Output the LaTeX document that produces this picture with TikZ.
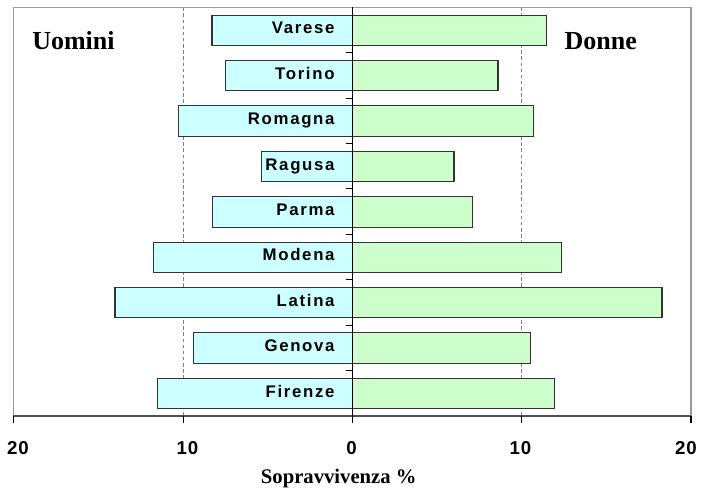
\documentclass[tikz,border=0pt]{standalone}
\usepackage{fontspec}
\setmainfont{Liberation Serif}
\newfontfamily\barfont[LetterSpace=10,BoldFont={Liberation Sans Bold}]{Liberation Sans}
\newfontfamily\tickfont[LetterSpace=5,BoldFont={Liberation Sans Bold}]{Liberation Sans}
\definecolor{menfill}{HTML}{CCFFFF}
\definecolor{womenfill}{HTML}{CCFFCC}
\definecolor{barline}{HTML}{333333}
\definecolor{framegray}{HTML}{9A9A9A}
\definecolor{gridgray}{HTML}{808080}
\definecolor{axisgray}{HTML}{505050}
\begin{document}
\begin{tikzpicture}[x=0.75pt,y=-0.75pt,
  menbar/.style={fill=menfill,draw=barline,line width=0.8pt},
  womenbar/.style={fill=womenfill,draw=barline,line width=0.8pt},
  gridline/.style={draw=gridgray,line width=0.8pt,dash pattern=on 2.6pt off 2pt},
  frameline/.style={draw=framegray,line width=0.8pt},
  axisline/.style={draw=black,line width=0.8pt},
  bottomaxis/.style={draw=axisgray,line width=0.8pt},
  barlabel/.style={font=\barfont\bfseries\fontsize{12.6}{14}\selectfont,anchor=base east,inner sep=0pt},
  ticklabel/.style={font=\tickfont\bfseries\fontsize{14}{16}\selectfont,anchor=base,inner sep=0pt},
  sidetitle/.style={font=\bfseries\fontsize{19.5}{22}\selectfont,anchor=base west,inner sep=0pt},
  axistitle/.style={font=\bfseries\fontsize{15.5}{18}\selectfont,anchor=base west,inner sep=0pt}]
\useasboundingbox (0,0) rectangle (701,490);
\fill[white] (0,0) rectangle (701,490);
% frame corners
\coordinate (TL) at (13.3,7.3);
\coordinate (TR) at (691,7.3);
\coordinate (BL) at (13.3,416);
\coordinate (BR) at (691,416);
% grid lines
\coordinate (gm10t) at (183.7,7.3);
\coordinate (gm10b) at (183.7,416);
\coordinate (gp10t) at (521.7,7.3);
\coordinate (gp10b) at (521.7,416);
\draw[gridline] (gm10t) -- (gm10b);
\draw[gridline] (gp10t) -- (gp10b);
% frame
\draw[frameline] (BL) -- (TL) -- (TR) -- (BR);
\draw[bottomaxis] (BL) -- (BR);
% bars
\foreach \name/\yc/\xl/\xr [count=\i] in {
  Varese/30.3/212/546.3,
  Torino/75.7/225.7/498,
  Romagna/121.1/178.7/533.7,
  Ragusa/166.5/261.3/454,
  Parma/211.9/212.3/472.7,
  Modena/257.3/153.7/561.7,
  Latina/302.7/115/662,
  Genova/348.1/193.3/530.3,
  Firenze/393.5/157.7/554.3}{
  \draw[menbar] (\xl,\yc-15.2) rectangle (352.3,\yc+15.2);
  \draw[womenbar] (352.3,\yc-15.2) rectangle (\xr,\yc+15.2);
  \node[barlabel] (lab\i) at (334.8,\yc+3.5) {\name};
}
% zero axis
\coordinate (z0t) at (352.3,7.3);
\coordinate (z0b) at (352.3,423.3);
\draw[axisline] (z0t) -- (z0b);
\foreach \k in {1,...,8}{
  \coordinate (ct\k) at (345.7,7.3+45.4*\k);
  \coordinate (cz\k) at (352.3,7.3+45.4*\k);
  \draw[axisline] (ct\k) -- (cz\k);
}
% bottom ticks
\foreach \x [count=\j] in {13.3,183.7,352.3,521.7,691}{
  \coordinate (bt\j) at (\x,416);
  \coordinate (bb\j) at (\x,423.3);
  \draw[axisline] (bt\j) -- (bb\j);
}
% tick labels
\node[ticklabel] (t1) at (18,454.3) {20};
\node[ticklabel] (t2) at (187.5,454.3) {10};
\node[ticklabel] (t3) at (351.5,454.3) {0};
\node[ticklabel] (t4) at (520.5,454.3) {10};
\node[ticklabel] (t5) at (686,454.3) {20};
% titles
\node[sidetitle] (uomini) at (32,49.3) {Uomini};
\node[sidetitle] (donne) at (564.3,49.3) {Donne};
\node[axistitle] (xtitle) at (260.7,483.3) {Sopravvivenza \%};
\end{tikzpicture}
\end{document}
